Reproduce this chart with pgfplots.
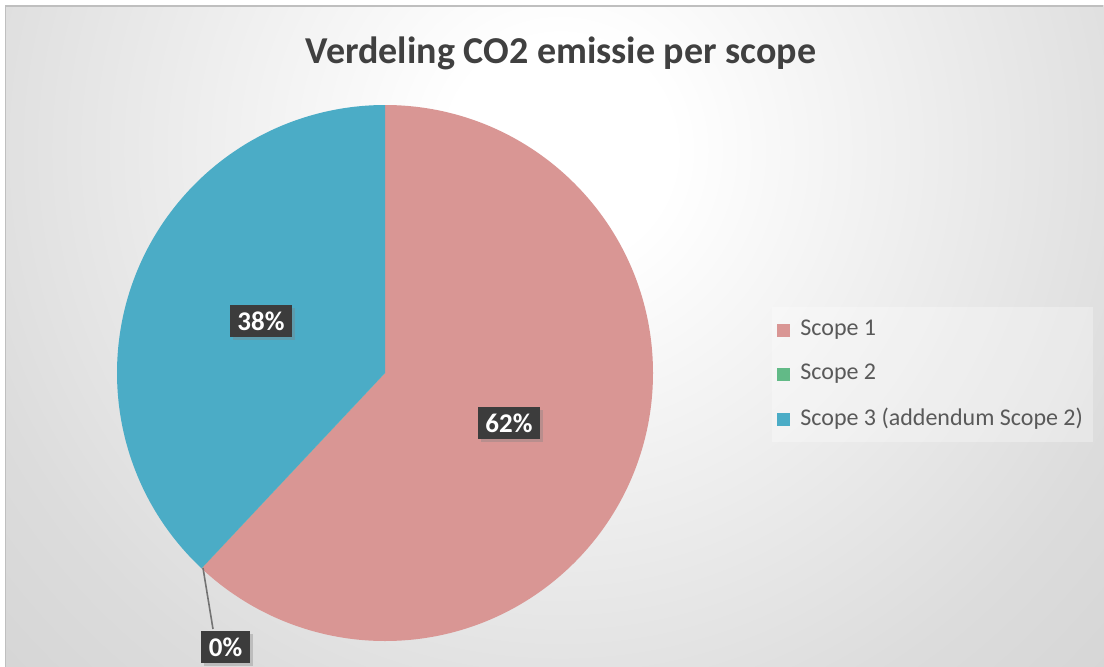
\documentclass[border=0pt]{standalone}
\usepackage{fontspec}
\setmainfont{Carlito}
\usepackage{pgfplots}
\usepackage{pgfplotstable}
\pgfplotsset{compat=1.18}
\usetikzlibrary{shadows}
\definecolor{sA}{HTML}{D99694}
\definecolor{sB}{HTML}{62BA87}
\definecolor{sC}{HTML}{4BACC6}
\definecolor{lbl}{HTML}{3C3C3C}
\definecolor{ttl}{HTML}{404040}
\definecolor{legtext}{HTML}{595959}
\definecolor{bgmid}{HTML}{DCDCDC}
\definecolor{bgedge}{HTML}{CBCBCB}
\definecolor{bgfar}{HTML}{C2C2C2}
\pgfdeclareradialshading{bgshade}{\pgfpoint{0bp}{0bp}}{color(0bp)=(white); color(4bp)=(white); color(22bp)=(bgmid); color(36bp)=(bgedge); color(50bp)=(bgfar)}
\pgfplotstableread{
scope value
1 62
2 0
3 38
}\piedata
\begin{document}
\begin{tikzpicture}
\useasboundingbox (0,0) rectangle (552pt,333pt);
\begin{axis}[at={(0,0)}, anchor=south west, scale only axis, width=552pt, height=333pt,
  xmin=0, xmax=1104, ymin=0, ymax=666, axis lines=none, xtick=\empty, ytick=\empty, clip=false]
\pgfplotstablegetelem{0}{value}\of\piedata \let\vA\pgfplotsretval
\pgfplotstablegetelem{1}{value}\of\piedata \let\vB\pgfplotsretval
\pgfplotstablegetelem{2}{value}\of\piedata \let\vC\pgfplotsretval
\pgfmathsetmacro\aA{90-3.6*\vA}
\pgfmathsetmacro\aB{\aA-3.6*\vB}
\pgfmathsetmacro\aC{\aB-3.6*\vC}
% background
\fill[white] (axis cs:0,0) rectangle (axis cs:1104,666);
\begin{scope}
\clip (axis cs:5,0) rectangle (axis cs:1104,660);
\fill[bgfar] (axis cs:5,0) rectangle (axis cs:1104,660);
\shade[shading=bgshade] (axis cs:-140,-184) rectangle (axis cs:1260,1216);
\end{scope}
\draw[color=black!25, line width=0.9pt] (axis cs:5.5,-10) -- (axis cs:5.5,660) -- (axis cs:1103,660);
% pie
\fill[sA] (axis cs:385,293) -- ++(90:134pt) arc[start angle=90, end angle=\aA, radius=134pt] -- cycle;
\fill[sB] (axis cs:385,293) -- ++(\aA:134pt) arc[start angle=\aA, end angle=\aB, radius=134pt] -- cycle;
\fill[sC] (axis cs:385,293) -- ++(\aB:134pt) arc[start angle=\aB, end angle=\aC, radius=134pt] -- cycle;
% leader line
\draw[black!55, line width=0.8pt] (axis cs:203,98) -- (axis cs:213,37);
% data labels
\tikzset{lblbox/.style={fill=lbl, text=white, font=\bfseries\fontsize{13.5}{15}\selectfont,
  minimum width=31pt, minimum height=16pt, inner sep=0pt,
  drop shadow={shadow xshift=1.6pt, shadow yshift=-1.6pt, opacity=0.35}}}
\node[lblbox] at (axis cs:261,345) {38\%};
\node[lblbox] at (axis cs:509,243) {62\%};
\node[lblbox, minimum width=24.5pt] at (axis cs:225.5,19) {0\%};
% title
\node[anchor=base, font=\bfseries\fontsize{19}{22}\selectfont, text=ttl, inner sep=0pt] at (axis cs:561,603) {Verdeling CO2 emissie per scope};
% legend
\fill[white, opacity=0.3] (axis cs:772,359) rectangle (axis cs:1093,224);
\fill[sA] (axis cs:777,342.5) rectangle (axis cs:790,329.5);
\fill[sB] (axis cs:777,298.5) rectangle (axis cs:790,285.5);
\fill[sC] (axis cs:777,253.5) rectangle (axis cs:790,240.5);
\tikzset{legtxt/.style={anchor=west, text=legtext, font=\fontsize{12}{14}\selectfont, inner sep=0pt}}
\node[legtxt] at (axis cs:800,336) {Scope 1};
\node[legtxt] at (axis cs:800,292) {Scope 2};
\node[legtxt] at (axis cs:800,247) {Scope 3 (addendum Scope 2)};
\end{axis}
\end{tikzpicture}
\end{document}
